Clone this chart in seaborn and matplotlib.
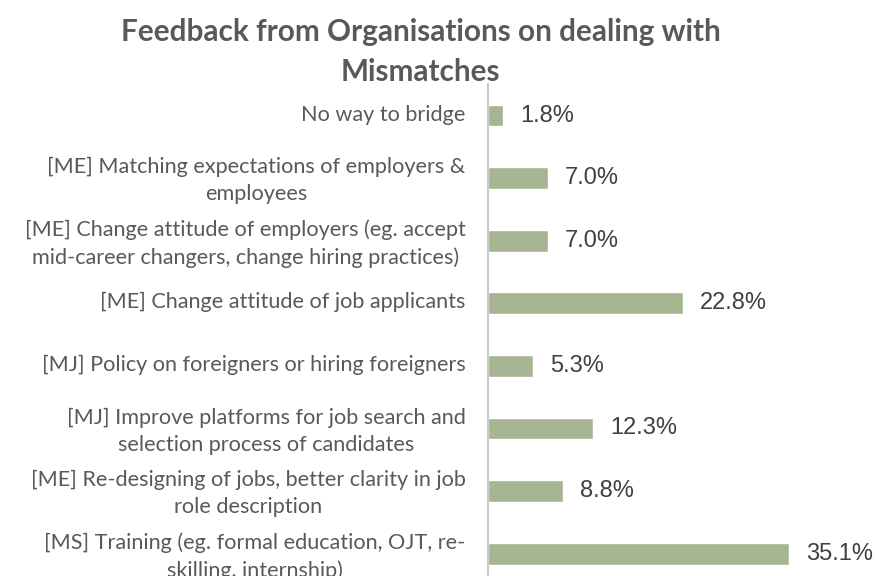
import matplotlib
matplotlib.use("Agg")
import matplotlib.pyplot as plt
import matplotlib.transforms as mtransforms
import seaborn as sns
import pandas as pd

categories = [
    "No way to bridge",
    "[ME] Matching expectations of employers &\nemployees",
    "[ME] Change attitude of employers (eg. accept\nmid-career changers, change hiring practices)",
    "[ME] Change attitude of job applicants",
    "[MJ] Policy on foreigners or hiring foreigners",
    "[MJ] Improve platforms for job search and\nselection process of candidates",
    "[ME] Re-designing of jobs, better clarity in job\nrole description",
    "[MS] Training (eg. formal education, OJT, re-\nskilling, internship)",
]
shares = [1.8, 7.0, 7.0, 22.8, 5.3, 12.3, 8.8, 35.1]
title = "Feedback from Organisations on dealing with\nMismatches"

df = pd.DataFrame({"category": categories, "share": shares})

sns.set_theme(style="white")
plt.rcParams["font.family"] = ["Lato", "DejaVu Sans"]

fig = plt.figure(figsize=(8.76, 5.76), dpi=100)
ax = fig.add_axes([0.557, -0.0156, 0.3916, 0.8694])

sns.barplot(data=df, x="share", y="category", orient="h", color="#A6B592",
            width=0.35, saturation=1, ax=ax)

ax.set_xlim(0, 40)
ax.set_xlabel("")
ax.set_ylabel("")
ax.xaxis.set_visible(False)
for side in ["top", "right", "bottom"]:
    ax.spines[side].set_visible(False)
ax.spines["left"].set_color("#BFBFBF")
ax.spines["left"].set_linewidth(1.2)

# category labels sit slightly above the bar centres
lift = mtransforms.ScaledTranslation(0, 3 / 100, fig.dpi_scale_trans)
ax.tick_params(axis="y", length=0, pad=16)
for lbl in ax.get_yticklabels():
    lbl.set_fontsize(15.6)
    lbl.set_color("#595959")
    lbl.set_multialignment("center")
    lbl.set_linespacing(1.45)
    lbl.set_transform(lbl.get_transform() + lift)

for container in ax.containers:
    ax.bar_label(container, labels=[f"{v:.1f}%" for v in shares], padding=12,
                 fontsize=17, color="#404040", family="Liberation Sans")

fig.text(0.48, 0.968, title, ha="center", va="top", fontsize=21.4,
         fontweight="bold", color="#595959", linespacing=1.5)

fig.savefig("out.png", dpi=100)
